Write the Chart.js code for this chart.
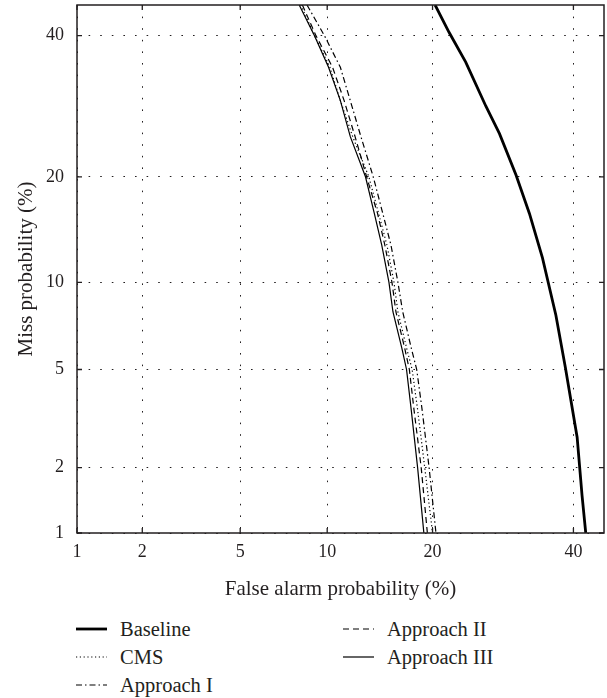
<!DOCTYPE html>
<html lang="en">
<head>
  <meta charset="UTF-8" />
  <title>DET curves</title>
  <script src="https://cdn.jsdelivr.net/npm/chart.js"></script>
  <style>
    body {
      margin: 0;
      background: #fff;
      font-family: 'Liberation Serif', serif;
      color: #231f20;
    }
    #wrap {
      position: relative;
      width: 607px;
      height: 698px;
    }
    #det {
      position: absolute;
      left: 0;
      top: 0;
    }
    .key {
      position: absolute;
      display: flex;
      align-items: center;
      font-size: 20.5px;
      line-height: 24px;
      white-space: nowrap;
    }
    .key svg {
      margin-right: 13px;
    }
  </style>
</head>
<body>
  <div id="wrap">
    <canvas id="det" width="607" height="605"></canvas>
    <div id="legend"></div>
  </div>

  <script>
    // axis ticks (percent) and range of the normal-deviate axes
    const tickPercents = [1, 2, 5, 10, 20, 40];
    const axisMin = 1;
    const axisMax = 45;

    // miss probability (%) shared by the four close curves
    const missLevels = [45, 40, 35, 30, 25, 20, 16, 13, 10, 8, 6, 5, 3.5, 2, 1];
    const cmsFA       = [8.2, 9.1, 10.2, 11.0, 12.0, 13.4, 14.3, 15.1, 15.8, 16.2, 17.1, 17.7, 18.3, 19.1, 20.0];
    const approach1FA = [8.6, 9.8, 11.0, 11.8, 12.7, 13.8, 14.7, 15.5, 16.2, 16.7, 17.6, 18.2, 18.8, 19.6, 20.4];
    const approach2FA = [8.3, 9.2, 10.4, 11.3, 12.2, 13.2, 14.2, 14.9, 15.6, 16.0, 16.9, 17.4, 17.9, 18.7, 19.4];
    const approach3FA = [8.1, 9.1, 10.1, 11.0, 11.8, 13.1, 13.9, 14.6, 15.3, 15.7, 16.6, 17.1, 17.6, 18.3, 19.0];

    // baseline has its own sampling
    const baselineFA   = [20.3, 22.0, 24.1, 26.8, 28.7, 31.1, 33.1, 35.1, 37.2, 38.7, 40.6, 41.4, 42.0];
    const baselineMiss = [45, 40.5, 35.8, 29.2, 25.4, 20.2, 16.0, 11.9, 7.8, 5.1, 2.7, 1.5, 1.0];

    const ink = '#231f20';
    const font = "'Liberation Serif', serif";

    // inverse of the standard normal CDF (Acklam)
    function probit(p) {
      const a = [-39.69683028665376, 220.9460984245205, -275.9285104469687, 138.3577518672690, -30.66479806614716, 2.506628277459239];
      const b = [-54.47609879822406, 161.5858368580409, -155.6989798598866, 66.80131188771972, -13.28068155288572];
      const c = [-0.007784894002430293, -0.3223964580411365, -2.400758277161838, -2.549671348124449, 4.374664141464968, 2.938163982698783];
      const d = [0.007784695709041462, 0.3224671290700398, 2.445134137142996, 3.754408661907416];
      const lo = 0.02425;
      if (p < lo) {
        const q = Math.sqrt(-2 * Math.log(p));
        return (((((c[0]*q + c[1])*q + c[2])*q + c[3])*q + c[4])*q + c[5]) /
               ((((d[0]*q + d[1])*q + d[2])*q + d[3])*q + 1);
      }
      if (p <= 1 - lo) {
        const q = p - 0.5, r = q * q;
        return (((((a[0]*r + a[1])*r + a[2])*r + a[3])*r + a[4])*r + a[5]) * q /
               (((((b[0]*r + b[1])*r + b[2])*r + b[3])*r + b[4])*r + 1);
      }
      const q = Math.sqrt(-2 * Math.log(1 - p));
      return -(((((c[0]*q + c[1])*q + c[2])*q + c[3])*q + c[4])*q + c[5]) /
              ((((d[0]*q + d[1])*q + d[2])*q + d[3])*q + 1);
    }

    const dev = pct => probit(pct / 100);
    const toPoints = (fa, miss) => fa.map((f, i) => ({ x: dev(f), y: dev(miss[i]) }));

    const series = [
      { label: 'Baseline',     points: toPoints(baselineFA, baselineMiss), width: 2.8, dash: [] },
      { label: 'CMS',          points: toPoints(cmsFA, missLevels),        width: 1.2, dash: [1.2, 2.6] },
      { label: 'Approach I',   points: toPoints(approach1FA, missLevels),  width: 1.2, dash: [6, 3, 1.5, 3] },
      { label: 'Approach II',  points: toPoints(approach2FA, missLevels),  width: 1.2, dash: [6, 4] },
      { label: 'Approach III', points: toPoints(approach3FA, missLevels),  width: 1.2, dash: [] }
    ];

    // box around the plot plus short inward ticks on all four sides
    const framePlugin = {
      id: 'frame',
      afterDatasetsDraw(chart) {
        const { ctx, chartArea: a, scales: { x, y } } = chart;
        ctx.save();
        ctx.strokeStyle = ink;
        ctx.lineWidth = 1.5;
        ctx.strokeRect(a.left, a.top, a.right - a.left, a.bottom - a.top);
        ctx.lineWidth = 1.3;
        ctx.beginPath();
        x.ticks.forEach(t => {
          const px = x.getPixelForValue(t.value);
          ctx.moveTo(px, a.bottom); ctx.lineTo(px, a.bottom - 5);
          ctx.moveTo(px, a.top); ctx.lineTo(px, a.top + 5);
        });
        y.ticks.forEach(t => {
          const py = y.getPixelForValue(t.value);
          ctx.moveTo(a.left, py); ctx.lineTo(a.left + 5, py);
          ctx.moveTo(a.right, py); ctx.lineTo(a.right - 5, py);
        });
        ctx.stroke();
        ctx.restore();
      }
    };

    const percentTicks = scale => {
      scale.ticks = tickPercents.map(p => ({ value: dev(p) }));
    };

    const axisCommon = {
      type: 'linear',
      min: dev(axisMin),
      max: dev(axisMax),
      afterBuildTicks: percentTicks,
      grid: { color: ink, lineWidth: 1, drawTicks: false },
      border: { display: false, dash: [1.6, 10] },
      ticks: {
        color: ink,
        font: { family: font, size: 18 },
        autoSkip: false,
        maxRotation: 0,
        callback: (v, i) => tickPercents[i]
      }
    };

    const titleFont = { family: font, size: 21 };

    new Chart(document.getElementById('det').getContext('2d'), {
      type: 'line',
      data: {
        datasets: series.map(s => ({
          label: s.label,
          data: s.points,
          borderColor: '#000',
          borderWidth: s.width,
          borderDash: s.dash,
          pointRadius: 0,
          tension: 0,
          fill: false
        }))
      },
      options: {
        responsive: false,
        animation: false,
        devicePixelRatio: 1,
        layout: { padding: { top: 5, right: 3, left: 0, bottom: 0 } },
        plugins: {
          legend: { display: false },
          tooltip: { enabled: false }
        },
        scales: {
          x: {
            ...axisCommon,
            position: 'bottom',
            ticks: { ...axisCommon.ticks, padding: 8 },
            title: {
              display: true,
              text: 'False alarm probability (%)',
              color: ink,
              font: titleFont,
              padding: { top: 0, bottom: 3 }
            },
            afterFit: scale => {
              scale.height = 72;
              scale.paddingLeft = 0;
              scale.paddingRight = 0;
            }
          },
          y: {
            ...axisCommon,
            position: 'left',
            ticks: { ...axisCommon.ticks, padding: 13 },
            title: {
              display: true,
              text: 'Miss probability (%)',
              color: ink,
              font: titleFont,
              padding: { top: 14, bottom: 0 }
            },
            afterFit: scale => {
              scale.width = 77;
              scale.paddingTop = 0;
              scale.paddingBottom = 0;
            }
          }
        }
      },
      plugins: [framePlugin]
    });

    // legend below the chart, two columns
    const legendSlots = {
      'Baseline':     { left: 76,  top: 617 },
      'CMS':          { left: 76,  top: 645 },
      'Approach I':   { left: 76,  top: 673 },
      'Approach II':  { left: 343, top: 617 },
      'Approach III': { left: 343, top: 645 }
    };
    const legendBox = document.getElementById('legend');
    series.forEach(s => {
      const slot = legendSlots[s.label];
      const item = document.createElement('div');
      item.className = 'key';
      item.style.left = slot.left + 'px';
      item.style.top = slot.top + 'px';
      item.innerHTML =
        `<svg width="31" height="6"><line x1="0" y1="3" x2="31" y2="3" stroke="#000" ` +
        `stroke-width="${s.width}" stroke-dasharray="${s.dash.join(' ') || 'none'}"/></svg>` +
        `<span>${s.label}</span>`;
      legendBox.appendChild(item);
    });
  </script>
</body>
</html>
